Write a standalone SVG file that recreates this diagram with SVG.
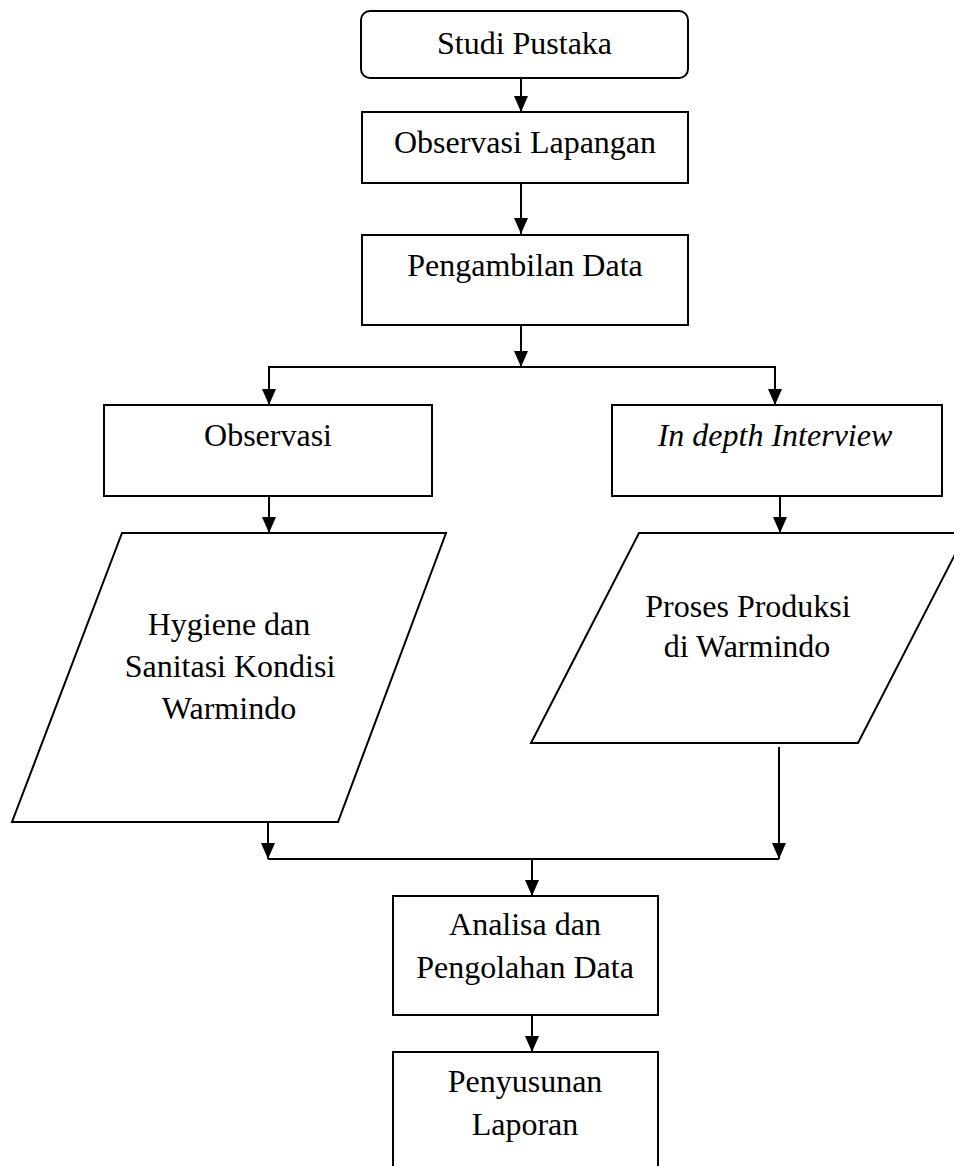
<svg xmlns="http://www.w3.org/2000/svg" width="954" height="1166" viewBox="0 0 954 1166">
<defs>
<style>
.box{fill:#fff;stroke:#000;stroke-width:2}
.t{font-family:"Liberation Serif","Times New Roman",serif;font-size:32px;fill:#000;text-anchor:middle}
.it{font-style:italic}
.c{stroke:#000;stroke-width:2;fill:none}
</style>
<marker id="ah" markerUnits="userSpaceOnUse" viewBox="0 0 16 14" refX="16" refY="7" markerWidth="16" markerHeight="14" orient="auto">
<path d="M0,0 L16,7 L0,14 z" fill="#000"/>
</marker>
</defs>
<rect width="954" height="1166" fill="#fff"/>
<g id="n1"><rect class="box" x="361" y="11" width="327" height="67" rx="9"/><text class="t" x="524.5" y="54">Studi Pustaka</text></g>
<g id="n2"><rect class="box" x="362" y="112" width="326" height="71"/><text class="t" x="525" y="153">Observasi Lapangan</text></g>
<g id="n3"><rect class="box" x="362" y="235" width="326" height="90"/><text class="t" x="525" y="276">Pengambilan Data</text></g>
<g id="n4"><rect class="box" x="104" y="405" width="328" height="91"/><text class="t" x="268" y="446">Observasi</text></g>
<g id="n5"><rect class="box" x="612" y="405" width="330" height="91"/><text class="t it" x="775" y="446">In depth Interview</text></g>
<g id="n6"><polygon class="box" points="122,533 446,533 338,822 12,822"/><text class="t" x="229" y="635">Hygiene dan</text><text class="t" x="230" y="677">Sanitasi Kondisi</text><text class="t" x="229" y="719">Warmindo</text></g>
<g id="n7"><polygon class="box" points="639,533 966,533 858,743 531,743"/><text class="t" x="748" y="617">Proses Produksi</text><text class="t" x="747" y="657">di Warmindo</text></g>
<g id="n8"><rect class="box" x="393" y="896" width="265" height="119"/><text class="t" x="525" y="935">Analisa dan</text><text class="t" x="525" y="978">Pengolahan Data</text></g>
<g id="n9"><rect class="box" x="393" y="1052" width="265" height="130"/><text class="t" x="525" y="1092">Penyusunan</text><text class="t" x="525" y="1135">Laporan</text></g>
<g id="connectors">
<line class="c" x1="521" y1="78" x2="521" y2="112" marker-end="url(#ah)"/>
<line class="c" x1="521" y1="183" x2="521" y2="234" marker-end="url(#ah)"/>
<line class="c" x1="521" y1="325" x2="521" y2="367" marker-end="url(#ah)"/>
<line class="c" x1="268" y1="367" x2="776" y2="367"/>
<line class="c" x1="269" y1="367" x2="269" y2="405" marker-end="url(#ah)"/>
<line class="c" x1="775" y1="367" x2="775" y2="405" marker-end="url(#ah)"/>
<line class="c" x1="269" y1="496" x2="269" y2="533" marker-end="url(#ah)"/>
<line class="c" x1="780" y1="496" x2="780" y2="533" marker-end="url(#ah)"/>
<line class="c" x1="268" y1="822" x2="268" y2="859" marker-end="url(#ah)"/>
<line class="c" x1="779" y1="747" x2="779" y2="859" marker-end="url(#ah)"/>
<line class="c" x1="268" y1="859" x2="779" y2="859"/>
<line class="c" x1="532" y1="859" x2="532" y2="896" marker-end="url(#ah)"/>
<line class="c" x1="532" y1="1015" x2="532" y2="1052" marker-end="url(#ah)"/>
</g>
</svg>
